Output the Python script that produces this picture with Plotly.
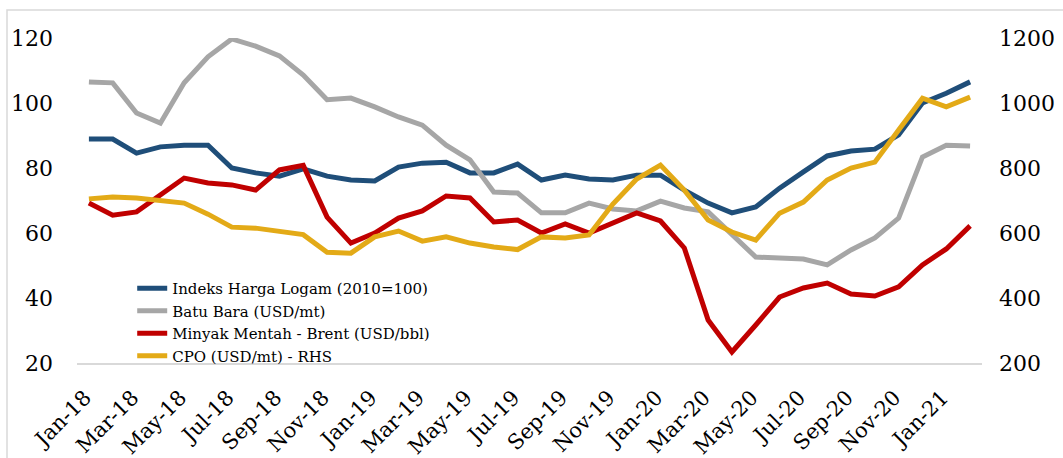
import plotly.graph_objects as go

months = ["Jan", "Feb", "Mar", "Apr", "May", "Jun", "Jul", "Aug", "Sep", "Oct", "Nov", "Dec"]
categories = [f"{m}-{y}" for y in ("18", "19", "20") for m in months] + ["Jan-21", "Feb-21"]
tick_labels = categories[::2]

logam = [88.9, 88.9, 84.6, 86.5, 87.0, 87.0, 80.0, 78.5, 77.5, 79.7,
         77.5, 76.3, 76.0, 80.3, 81.5, 81.8, 78.5, 78.5, 81.2, 76.3,
         77.8, 76.6, 76.3, 77.8, 77.8, 73.2, 69.2, 66.2, 68.0, 73.8,
         78.8, 83.7, 85.2, 85.8, 90.2, 100.0, 103.0, 106.5]
batubara = [106.5, 106.2, 96.9, 93.8, 106.2, 114.2, 119.7, 117.5, 114.5, 108.6,
            101.0, 101.5, 98.8, 95.7, 93.2, 87.0, 82.5, 72.6, 72.3, 66.2,
            66.2, 69.2, 67.4, 66.8, 69.8, 67.7, 66.5, 59.5, 52.6, 52.3,
            52.0, 50.2, 54.8, 58.5, 64.6, 83.4, 87.0, 86.8]
brent = [69.2, 65.5, 66.5, 71.7, 76.9, 75.4, 74.8, 73.2, 79.4, 80.8,
         64.9, 56.9, 60.0, 64.6, 66.8, 71.4, 70.8, 63.4, 64.0, 60.0,
         62.8, 60.0, 63.1, 66.2, 63.7, 55.4, 33.2, 23.4, 31.7, 40.3,
         43.1, 44.6, 41.2, 40.6, 43.4, 50.2, 55.1, 62.2]
cpo = [705, 711, 708, 701, 692, 658, 618, 615, 606, 595,
       541, 538, 588, 606, 575, 588, 569, 557, 549, 588,
       585, 594, 689, 766, 809, 732, 640, 603, 578, 661,
       695, 763, 800, 818, 917, 1015, 988, 1018]

names = ["Indeks Harga Logam (2010=100)", "Batu Bara (USD/mt)",
         "Minyak Mentah - Brent (USD/bbl)", "CPO (USD/mt) - RHS"]
colors = ["#1F4E79", "#A6A6A6", "#C00000", "#E3AA17"]

fig = go.Figure()
for vals, name, col, ax in zip([logam, batubara, brent, cpo], names, colors, ["y", "y", "y", "y2"]):
    fig.add_trace(go.Scatter(x=categories, y=vals, name=name, mode="lines",
                             line=dict(color=col, width=5), yaxis=ax))

font_family = "DejaVu Serif"
W, H = 1063, 458
ml, mr, mt, mb = 77, 81, 38, 95
pw = W - ml - mr
ph = H - mt - mb

fig.update_layout(
    width=W, height=H,
    margin=dict(l=ml, r=mr, t=mt, b=mb, autoexpand=False),
    paper_bgcolor="white", plot_bgcolor="white",
    font=dict(family=font_family, color="black", size=22),
    showlegend=True,
    legend=dict(x=0.061, y=0.28, xanchor="left", yanchor="top",
                bgcolor="rgba(0,0,0,0)", font=dict(size=15, family=font_family),
                tracegroupgap=0, itemwidth=30),
    xaxis=dict(type="category", categoryorder="array", categoryarray=categories,
               range=[-0.5, len(categories) - 0.5],
               tickmode="array", tickvals=tick_labels, ticktext=tick_labels,
               tickangle=-45, showgrid=False, zeroline=False,
               showline=True, linecolor="#D9D9D9", linewidth=2,
               ticks="", tickfont=dict(size=21), ticklabelstandoff=12,
               ticklabelshift=-4, automargin=False),
    yaxis=dict(range=[20, 120], dtick=20, showgrid=False, zeroline=False,
               showline=False, ticks="", ticklabelstandoff=23, automargin=False),
    yaxis2=dict(range=[200, 1200], dtick=200, overlaying="y", side="right",
                showgrid=False, zeroline=False, showline=False, ticks="",
                ticklabelstandoff=16, automargin=False),
)

# light chart-area frame
fig.add_shape(type="rect", xref="paper", yref="paper",
              x0=(7 - ml) / pw, x1=(W + 10 - ml) / pw,
              y0=-(H + 20 - mt - ph) / ph, y1=(ph + mt - 10) / ph,
              line=dict(color="#D9D9D9", width=1.5), fillcolor="rgba(0,0,0,0)", layer="below")

fig.write_html("out.html", config={"displayModeBar": False},
               post_script="document.body.style.margin='0';document.body.style.overflow='hidden';")
